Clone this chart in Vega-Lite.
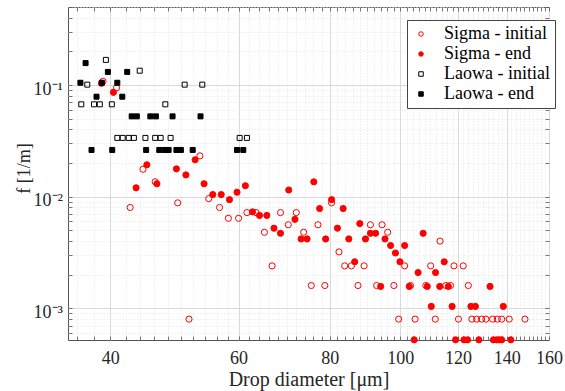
{
  "$schema": "https://vega.github.io/schema/vega-lite/v6.json",
  "width": 481,
  "height": 333,
  "autosize": "none",
  "padding": {"left": 68, "top": 7, "right": 16, "bottom": 51},
  "background": "white",
  "config": {
    "font": "Liberation Serif",
    "view": {"stroke": "#555555", "strokeWidth": 1},
    "legend": {
      "padding": 5,
      "rowPadding": 2,
      "labelOffset": 14,
      "labelFontSize": 18,
      "labelColor": "#000000",
      "labelLimit": 300,
      "symbolSize": 20,
      "symbolStrokeWidth": 1,
      "strokeColor": "#444444",
      "fillColor": "white"
    }
  },
  "data": {
    "values": [
      {"series": "Sigma - initial", "d": 39.1, "f": 0.108},
      {"series": "Sigma - initial", "d": 40.8, "f": 0.0944},
      {"series": "Sigma - initial", "d": 42.6, "f": 0.008},
      {"series": "Sigma - initial", "d": 44.35, "f": 0.0176},
      {"series": "Sigma - initial", "d": 46.1, "f": 0.0136},
      {"series": "Sigma - initial", "d": 49.5, "f": 0.0088},
      {"series": "Sigma - initial", "d": 51.3, "f": 0.0008},
      {"series": "Sigma - initial", "d": 53.1, "f": 0.0232},
      {"series": "Sigma - initial", "d": 54.6, "f": 0.0096},
      {"series": "Sigma - initial", "d": 56.5, "f": 0.008},
      {"series": "Sigma - initial", "d": 58.1, "f": 0.0064},
      {"series": "Sigma - initial", "d": 60.0, "f": 0.0064},
      {"series": "Sigma - initial", "d": 61.6, "f": 0.0072},
      {"series": "Sigma - initial", "d": 63.4, "f": 0.0072},
      {"series": "Sigma - initial", "d": 65.1, "f": 0.0048},
      {"series": "Sigma - initial", "d": 66.7, "f": 0.0024},
      {"series": "Sigma - initial", "d": 68.5, "f": 0.0072},
      {"series": "Sigma - initial", "d": 70.2, "f": 0.0056},
      {"series": "Sigma - initial", "d": 72.0, "f": 0.0072},
      {"series": "Sigma - initial", "d": 73.7, "f": 0.0048},
      {"series": "Sigma - initial", "d": 75.5, "f": 0.0016},
      {"series": "Sigma - initial", "d": 77.1, "f": 0.0056},
      {"series": "Sigma - initial", "d": 78.8, "f": 0.0016},
      {"series": "Sigma - initial", "d": 80.5, "f": 0.0088},
      {"series": "Sigma - initial", "d": 82.4, "f": 0.0032},
      {"series": "Sigma - initial", "d": 83.9, "f": 0.0024},
      {"series": "Sigma - initial", "d": 85.7, "f": 0.0024},
      {"series": "Sigma - initial", "d": 87.5, "f": 0.0016},
      {"series": "Sigma - initial", "d": 89.2, "f": 0.0024},
      {"series": "Sigma - initial", "d": 91.0, "f": 0.0056},
      {"series": "Sigma - initial", "d": 92.8, "f": 0.0016},
      {"series": "Sigma - initial", "d": 94.4, "f": 0.0056},
      {"series": "Sigma - initial", "d": 96.1, "f": 0.0048},
      {"series": "Sigma - initial", "d": 98.0, "f": 0.0016},
      {"series": "Sigma - initial", "d": 99.5, "f": 0.0008},
      {"series": "Sigma - initial", "d": 101.4, "f": 0.0024},
      {"series": "Sigma - initial", "d": 103.3, "f": 0.0016},
      {"series": "Sigma - initial", "d": 104.8, "f": 0.0008},
      {"series": "Sigma - initial", "d": 108.4, "f": 0.0016},
      {"series": "Sigma - initial", "d": 110.1, "f": 0.0024},
      {"series": "Sigma - initial", "d": 111.7, "f": 0.0008},
      {"series": "Sigma - initial", "d": 113.4, "f": 0.004},
      {"series": "Sigma - initial", "d": 115.5, "f": 0.0016},
      {"series": "Sigma - initial", "d": 117.2, "f": 0.0016},
      {"series": "Sigma - initial", "d": 118.5, "f": 0.0024},
      {"series": "Sigma - initial", "d": 120.2, "f": 0.0008},
      {"series": "Sigma - initial", "d": 122.0, "f": 0.0024},
      {"series": "Sigma - initial", "d": 124.0, "f": 0.0016},
      {"series": "Sigma - initial", "d": 125.4, "f": 0.0008},
      {"series": "Sigma - initial", "d": 127.3, "f": 0.0008},
      {"series": "Sigma - initial", "d": 129.3, "f": 0.0008},
      {"series": "Sigma - initial", "d": 131.1, "f": 0.0008},
      {"series": "Sigma - initial", "d": 133.9, "f": 0.0008},
      {"series": "Sigma - initial", "d": 135.9, "f": 0.0008},
      {"series": "Sigma - initial", "d": 137.8, "f": 0.0008},
      {"series": "Sigma - initial", "d": 141.1, "f": 0.0008},
      {"series": "Sigma - initial", "d": 148.3, "f": 0.0008},

      {"series": "Sigma - end", "d": 38.9, "f": 0.1036},
      {"series": "Sigma - end", "d": 40.4, "f": 0.086},
      {"series": "Sigma - end", "d": 43.4, "f": 0.012},
      {"series": "Sigma - end", "d": 44.9, "f": 0.0193},
      {"series": "Sigma - end", "d": 46.35, "f": 0.01305},
      {"series": "Sigma - end", "d": 49.3, "f": 0.01775},
      {"series": "Sigma - end", "d": 50.8, "f": 0.01566},
      {"series": "Sigma - end", "d": 52.3, "f": 0.0214},
      {"series": "Sigma - end", "d": 53.8, "f": 0.01305},
      {"series": "Sigma - end", "d": 55.3, "f": 0.01044},
      {"series": "Sigma - end", "d": 56.8, "f": 0.01044},
      {"series": "Sigma - end", "d": 58.3, "f": 0.0094},
      {"series": "Sigma - end", "d": 59.7, "f": 0.01096},
      {"series": "Sigma - end", "d": 61.3, "f": 0.01253},
      {"series": "Sigma - end", "d": 62.7, "f": 0.00731},
      {"series": "Sigma - end", "d": 64.1, "f": 0.00679},
      {"series": "Sigma - end", "d": 65.6, "f": 0.00679},
      {"series": "Sigma - end", "d": 67.1, "f": 0.00522},
      {"series": "Sigma - end", "d": 68.5, "f": 0.0047},
      {"series": "Sigma - end", "d": 70.3, "f": 0.01148},
      {"series": "Sigma - end", "d": 71.7, "f": 0.00626},
      {"series": "Sigma - end", "d": 73.1, "f": 0.00418},
      {"series": "Sigma - end", "d": 74.5, "f": 0.00418},
      {"series": "Sigma - end", "d": 76.1, "f": 0.01357},
      {"series": "Sigma - end", "d": 77.5, "f": 0.00783},
      {"series": "Sigma - end", "d": 79.0, "f": 0.00418},
      {"series": "Sigma - end", "d": 80.5, "f": 0.0094},
      {"series": "Sigma - end", "d": 82.0, "f": 0.00522},
      {"series": "Sigma - end", "d": 83.5, "f": 0.00783},
      {"series": "Sigma - end", "d": 85.0, "f": 0.00418},
      {"series": "Sigma - end", "d": 86.6, "f": 0.00261},
      {"series": "Sigma - end", "d": 88.0, "f": 0.00574},
      {"series": "Sigma - end", "d": 89.6, "f": 0.00418},
      {"series": "Sigma - end", "d": 91.0, "f": 0.0047},
      {"series": "Sigma - end", "d": 92.5, "f": 0.0047},
      {"series": "Sigma - end", "d": 94.0, "f": 0.00157},
      {"series": "Sigma - end", "d": 95.3, "f": 0.00418},
      {"series": "Sigma - end", "d": 97.0, "f": 0.00365},
      {"series": "Sigma - end", "d": 98.5, "f": 0.00313},
      {"series": "Sigma - end", "d": 99.9, "f": 0.00261},
      {"series": "Sigma - end", "d": 101.4, "f": 0.00365},
      {"series": "Sigma - end", "d": 102.9, "f": 0.00157},
      {"series": "Sigma - end", "d": 104.5, "f": 0.000522},
      {"series": "Sigma - end", "d": 105.8, "f": 0.00209},
      {"series": "Sigma - end", "d": 107.5, "f": 0.0047},
      {"series": "Sigma - end", "d": 108.9, "f": 0.00157},
      {"series": "Sigma - end", "d": 110.3, "f": 0.00104},
      {"series": "Sigma - end", "d": 111.8, "f": 0.00209},
      {"series": "Sigma - end", "d": 113.3, "f": 0.00157},
      {"series": "Sigma - end", "d": 114.9, "f": 0.00261},
      {"series": "Sigma - end", "d": 116.4, "f": 0.00157},
      {"series": "Sigma - end", "d": 117.8, "f": 0.00104},
      {"series": "Sigma - end", "d": 119.1, "f": 0.000522},
      {"series": "Sigma - end", "d": 122.3, "f": 0.000522},
      {"series": "Sigma - end", "d": 123.7, "f": 0.000522},
      {"series": "Sigma - end", "d": 125.0, "f": 0.00104},
      {"series": "Sigma - end", "d": 126.8, "f": 0.00104},
      {"series": "Sigma - end", "d": 128.2, "f": 0.000522},
      {"series": "Sigma - end", "d": 132.8, "f": 0.00157},
      {"series": "Sigma - end", "d": 134.2, "f": 0.000522},
      {"series": "Sigma - end", "d": 135.6, "f": 0.000522},
      {"series": "Sigma - end", "d": 136.8, "f": 0.000522},
      {"series": "Sigma - end", "d": 137.8, "f": 0.000522},
      {"series": "Sigma - end", "d": 138.5, "f": 0.00104},
      {"series": "Sigma - end", "d": 141.8, "f": 0.000522},

      {"series": "Laowa - initial", "d": 36.5, "f": 0.0672},
      {"series": "Laowa - initial", "d": 37.2, "f": 0.1008},
      {"series": "Laowa - initial", "d": 38.0, "f": 0.0672},
      {"series": "Laowa - initial", "d": 38.7, "f": 0.0672},
      {"series": "Laowa - initial", "d": 39.45, "f": 0.168},
      {"series": "Laowa - initial", "d": 40.2, "f": 0.0672},
      {"series": "Laowa - initial", "d": 40.9, "f": 0.0336},
      {"series": "Laowa - initial", "d": 41.6, "f": 0.0336},
      {"series": "Laowa - initial", "d": 42.4, "f": 0.0336},
      {"series": "Laowa - initial", "d": 43.1, "f": 0.0336},
      {"series": "Laowa - initial", "d": 43.9, "f": 0.1344},
      {"series": "Laowa - initial", "d": 44.7, "f": 0.0336},
      {"series": "Laowa - initial", "d": 46.1, "f": 0.0336},
      {"series": "Laowa - initial", "d": 46.9, "f": 0.0336},
      {"series": "Laowa - initial", "d": 47.6, "f": 0.0672},
      {"series": "Laowa - initial", "d": 48.4, "f": 0.0336},
      {"series": "Laowa - initial", "d": 50.6, "f": 0.1008},
      {"series": "Laowa - initial", "d": 53.5, "f": 0.1008},
      {"series": "Laowa - initial", "d": 60.2, "f": 0.0336},
      {"series": "Laowa - initial", "d": 61.6, "f": 0.0336},

      {"series": "Laowa - end", "d": 36.4, "f": 0.1048},
      {"series": "Laowa - end", "d": 37.0, "f": 0.1572},
      {"series": "Laowa - end", "d": 37.7, "f": 0.0262},
      {"series": "Laowa - end", "d": 38.3, "f": 0.0786},
      {"series": "Laowa - end", "d": 38.95, "f": 0.1048},
      {"series": "Laowa - end", "d": 39.7, "f": 0.131},
      {"series": "Laowa - end", "d": 40.25, "f": 0.0262},
      {"series": "Laowa - end", "d": 40.9, "f": 0.1048},
      {"series": "Laowa - end", "d": 41.55, "f": 0.0786},
      {"series": "Laowa - end", "d": 42.2, "f": 0.131},
      {"series": "Laowa - end", "d": 42.8, "f": 0.0524},
      {"series": "Laowa - end", "d": 43.5, "f": 0.0524},
      {"series": "Laowa - end", "d": 44.8, "f": 0.0262},
      {"series": "Laowa - end", "d": 45.4, "f": 0.0524},
      {"series": "Laowa - end", "d": 46.2, "f": 0.0524},
      {"series": "Laowa - end", "d": 46.7, "f": 0.0262},
      {"series": "Laowa - end", "d": 47.5, "f": 0.0262},
      {"series": "Laowa - end", "d": 48.1, "f": 0.0262},
      {"series": "Laowa - end", "d": 48.7, "f": 0.0524},
      {"series": "Laowa - end", "d": 49.3, "f": 0.0262},
      {"series": "Laowa - end", "d": 50.0, "f": 0.0262},
      {"series": "Laowa - end", "d": 51.9, "f": 0.0262},
      {"series": "Laowa - end", "d": 53.2, "f": 0.0524},
      {"series": "Laowa - end", "d": 59.7, "f": 0.0262},
      {"series": "Laowa - end", "d": 60.9, "f": 0.0262}
    ]
  },
  "layer": [
    {
      "transform": [{"filter": "indexof(datum.series, 'Sigma') == 0"}],
      "mark": {"type": "point", "size": 38, "strokeWidth": 1, "opacity": 1},
      "encoding": {
        "x": {
          "field": "d",
          "type": "quantitative",
          "scale": {"type": "log", "domain": [35, 160], "nice": false},
          "axis": {
            "orient": "bottom",
            "values": [36, 38, 40, 42, 44, 46, 48, 50, 52, 54, 56, 58, 60, 62, 64, 66, 68, 70, 72, 74, 76, 78, 80, 82, 84, 86, 88, 90, 92, 94, 96, 98, 100, 102, 104, 106, 108, 110, 112, 114, 116, 118, 120, 122, 124, 126, 128, 130, 132, 134, 136, 138, 140, 142, 144, 146, 148, 150, 152, 154, 156, 158, 160],
            "format": "d",
            "labelExpr": "datum.value % 20 == 0 ? datum.label : ''",
            "labelFontSize": 18,
            "labelColor": "#262626",
            "labelPadding": 13,
            "labelOverlap": false,
            "labelFlush": false,
            "labelBound": false,
            "tickSize": -4,
            "tickColor": "#555555",
            "tickWidth": 0.8,
            "domain": false,
            "grid": true,
            "gridColor": {"condition": {"test": "datum.value % 20 == 0", "value": "#d9d9d9"}, "value": "#e4e4e4"},
            "gridDash": {"condition": {"test": "datum.value % 20 == 0", "value": []}, "value": [1, 2]},
            "title": "Drop diameter [μm]",
            "titleFontSize": 20,
            "titleFontWeight": "normal",
            "titleColor": "#262626",
            "titleY": 45,
            "titleBaseline": "alphabetic"
          }
        },
        "y": {
          "field": "f",
          "type": "quantitative",
          "scale": {"type": "log", "domain": [0.00052, 0.5], "nice": false},
          "axis": {
            "orient": "left",
            "values": [0.0006, 0.0007, 0.0008, 0.0009, 0.001, 0.002, 0.003, 0.004, 0.005, 0.006, 0.007, 0.008, 0.009, 0.01, 0.02, 0.03, 0.04, 0.05, 0.06, 0.07, 0.08, 0.09, 0.1, 0.2, 0.3, 0.4, 0.5],
            "labelExpr": "abs(log(datum.value)/LN10 - round(log(datum.value)/LN10)) < 0.001 ? '10' + (round(log(datum.value)/LN10) == -1 ? '⁻¹' : round(log(datum.value)/LN10) == -2 ? '⁻²' : '⁻³') : ''",
            "labelFontSize": 18,
            "labelColor": "#262626",
            "labelPadding": 9.5,
            "labelOffset": 4,
            "labelOverlap": false,
            "labelFlush": false,
            "labelBound": false,
            "tickSize": -4,
            "tickColor": "#555555",
            "tickWidth": 0.8,
            "domain": false,
            "grid": true,
            "gridColor": {"condition": {"test": "abs(log(datum.value)/LN10 - round(log(datum.value)/LN10)) < 0.001", "value": "#d9d9d9"}, "value": "#e4e4e4"},
            "gridDash": {"condition": {"test": "abs(log(datum.value)/LN10 - round(log(datum.value)/LN10)) < 0.001", "value": []}, "value": [1, 2]},
            "title": "f [1/m]",
            "titleFontSize": 18,
            "titleFontWeight": "normal",
            "titleColor": "#262626",
            "titleX": -44,
            "titleY": 161,
            "titleBaseline": "middle"
          }
        },
        "stroke": {
          "field": "series",
          "type": "nominal",
          "scale": {"domain": ["Sigma - initial", "Sigma - end", "Laowa - initial", "Laowa - end"], "range": ["#ff0000", "#ff0000", "#000000", "#000000"]},
          "legend": {"title": null, "orient": "none", "legendX": 339, "legendY": 13}
        },
        "fill": {
          "field": "series",
          "type": "nominal",
          "scale": {"domain": ["Sigma - initial", "Sigma - end", "Laowa - initial", "Laowa - end"], "range": ["transparent", "#ff0000", "transparent", "#000000"]},
          "legend": {"title": null, "orient": "none", "legendX": 339, "legendY": 13}
        },
        "shape": {
          "field": "series",
          "type": "nominal",
          "scale": {"domain": ["Sigma - initial", "Sigma - end", "Laowa - initial", "Laowa - end"], "range": ["circle", "circle", "square", "square"]},
          "legend": {"title": null, "orient": "none", "legendX": 339, "legendY": 13}
        }
      }
    },
    {
      "transform": [{"filter": "indexof(datum.series, 'Laowa') == 0"}],
      "mark": {"type": "point", "size": 25, "strokeWidth": 1, "opacity": 1},
      "encoding": {
        "x": {
          "field": "d",
          "type": "quantitative",
          "scale": {"type": "log", "domain": [35, 160], "nice": false},
          "axis": {
            "orient": "top",
            "values": [36, 38, 40, 42, 44, 46, 48, 50, 52, 54, 56, 58, 60, 62, 64, 66, 68, 70, 72, 74, 76, 78, 80, 82, 84, 86, 88, 90, 92, 94, 96, 98, 100, 102, 104, 106, 108, 110, 112, 114, 116, 118, 120, 122, 124, 126, 128, 130, 132, 134, 136, 138, 140, 142, 144, 146, 148, 150, 152, 154, 156, 158, 160],
            "labels": false,
            "grid": false,
            "domain": false,
            "tickSize": -4,
            "tickColor": "#555555",
            "tickWidth": 0.8,
            "title": null
          }
        },
        "y": {
          "field": "f",
          "type": "quantitative",
          "scale": {"type": "log", "domain": [0.00052, 0.5], "nice": false},
          "axis": {
            "orient": "right",
            "values": [0.0006, 0.0007, 0.0008, 0.0009, 0.001, 0.002, 0.003, 0.004, 0.005, 0.006, 0.007, 0.008, 0.009, 0.01, 0.02, 0.03, 0.04, 0.05, 0.06, 0.07, 0.08, 0.09, 0.1, 0.2, 0.3, 0.4, 0.5],
            "labels": false,
            "grid": false,
            "domain": false,
            "tickSize": -4,
            "tickColor": "#555555",
            "tickWidth": 0.8,
            "title": null
          }
        },
        "stroke": {"field": "series", "type": "nominal", "scale": {"domain": ["Sigma - initial", "Sigma - end", "Laowa - initial", "Laowa - end"], "range": ["#ff0000", "#ff0000", "#000000", "#000000"]}, "legend": {"title": null, "orient": "none", "legendX": 339, "legendY": 13}},
        "fill": {"field": "series", "type": "nominal", "scale": {"domain": ["Sigma - initial", "Sigma - end", "Laowa - initial", "Laowa - end"], "range": ["transparent", "#ff0000", "transparent", "#000000"]}, "legend": {"title": null, "orient": "none", "legendX": 339, "legendY": 13}},
        "shape": {"field": "series", "type": "nominal", "scale": {"domain": ["Sigma - initial", "Sigma - end", "Laowa - initial", "Laowa - end"], "range": ["circle", "circle", "square", "square"]}, "legend": {"title": null, "orient": "none", "legendX": 339, "legendY": 13}}
      }
    }
  ],
  "resolve": {"axis": {"x": "independent", "y": "independent"}}
}
